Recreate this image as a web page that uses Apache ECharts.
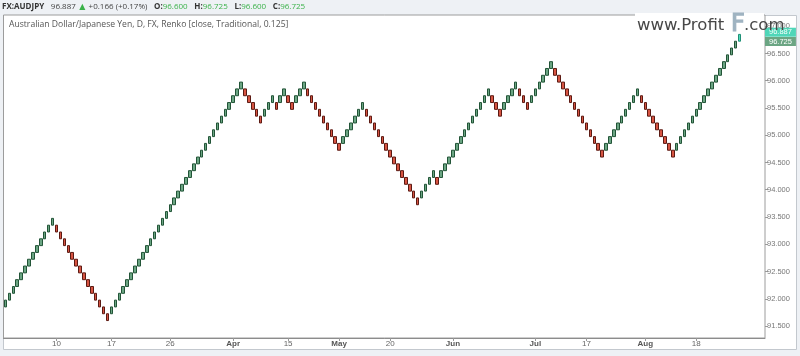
<!DOCTYPE html>
<html><head><meta charset="utf-8">
<script src="https://cdn.jsdelivr.net/npm/echarts@6/dist/echarts.min.js"></script>
<style>html,body{margin:0;padding:0;background:#eef1f5}#c{width:800px;height:356px}</style>
</head><body><div id="c"></div>
<script>
// ---- data ----
const brickSize = 0.125;
const firstOpen = 91.85;
const brickCloses = [
  91.975, 92.1, 92.225, 92.35, 92.475, 92.6, 92.725, 92.85, 92.975, 93.1, 93.225, 93.35, 93.475,
  93.225, 93.1, 92.975, 92.85, 92.725, 92.6, 92.475, 92.35, 92.225, 92.1, 91.975, 91.85, 91.725, 91.6,
  91.85, 91.975, 92.1, 92.225, 92.35, 92.475, 92.6, 92.725, 92.85, 92.975, 93.1, 93.225, 93.35, 93.475,
  93.6, 93.725, 93.85, 93.975, 94.1, 94.225, 94.35, 94.475, 94.6, 94.725, 94.85, 94.975, 95.1, 95.225,
  95.35, 95.475, 95.6, 95.725, 95.85, 95.975,
  95.725, 95.6, 95.475, 95.35, 95.225,
  95.475, 95.6, 95.725,
  95.475,
  95.725, 95.85,
  95.6, 95.475,
  95.725, 95.85, 95.975,
  95.725, 95.6, 95.475, 95.35, 95.225, 95.1, 94.975, 94.85, 94.725,
  94.975, 95.1, 95.225, 95.35, 95.475, 95.6,
  95.35, 95.225, 95.1, 94.975, 94.85, 94.725, 94.6, 94.475, 94.35, 94.225, 94.1, 93.975, 93.85, 93.725,
  93.975, 94.1, 94.225, 94.35,
  94.1,
  94.35, 94.475, 94.6, 94.725, 94.85, 94.975, 95.1, 95.225, 95.35, 95.475, 95.6, 95.725, 95.85,
  95.6, 95.475, 95.35,
  95.6, 95.725, 95.85, 95.975,
  95.725, 95.6, 95.475,
  95.725, 95.85, 95.975, 96.1, 96.225, 96.35,
  96.1, 95.975, 95.85, 95.725, 95.6, 95.475, 95.35, 95.225, 95.1, 94.975, 94.85, 94.725, 94.6,
  94.85, 94.975, 95.1, 95.225, 95.35, 95.475, 95.6, 95.725, 95.85,
  95.6, 95.475, 95.35, 95.225, 95.1, 94.975, 94.85, 94.725, 94.6,
  94.85, 94.975, 95.1, 95.225, 95.35, 95.475, 95.6, 95.725, 95.85, 95.975, 96.1, 96.225, 96.35, 96.475, 96.6, 96.725
];
const projectionClose = 96.85;
const xTickIndex = [13, 27, 42, 58, 72, 85, 98, 114, 135, 148, 163, 176];
const xTickText = ['10', '17', '26', 'Apr', '15', 'May', '20', 'Jun', 'Jul', '17', 'Aug', '18'];
const yTickValues = [91.5, 92, 92.5, 93, 93.5, 94, 94.5, 95, 95.5, 96, 96.5, 97];
const lastPrice = 96.887;
const lastClose = 96.725;

// ---- layout ----
const slotCount = 194;
const r3 = v => Math.round(v * 1000) / 1000;

const candles = [];
let prev = firstOpen;
brickCloses.forEach(c => {
  const dir = c > prev ? 1 : -1;
  const o = r3(c - dir * brickSize);
  candles.push([o, c, Math.min(o, c), Math.max(o, c)]);
  prev = c;
});
{
  const dir = projectionClose > prev ? 1 : -1;
  const o = r3(projectionClose - dir * brickSize);
  candles.push({
    value: [o, projectionClose, Math.min(o, projectionClose), Math.max(o, projectionClose)],
    itemStyle: { color: '#4fdcbc', borderColor: '#1f8f76', color0: '#4fdcbc', borderColor0: '#1f8f76' }
  });
}

const categories = Array.from({ length: slotCount }, (_, i) => {
  const k = xTickIndex.indexOf(i);
  return k >= 0 ? xTickText[k] : '';
});

const chart = echarts.init(document.getElementById('c'), null, { renderer: 'canvas' });
const fontUI = '"Open Sans", "DejaVu Sans", sans-serif';
const fontAxis = '"Liberation Sans", Arial, sans-serif';
const fontMark = '"DejaVu Sans", sans-serif';

chart.setOption({
  backgroundColor: '#eef1f5',
  animation: false,
  grid: {
    left: 3.5, right: 35, top: 15, bottom: 18,
    show: true, backgroundColor: '#ffffff', borderColor: '#9c9c9c', borderWidth: 1
  },
  xAxis: {
    type: 'category',
    data: categories,
    boundaryGap: true,
    axisLine: { show: true, lineStyle: { color: '#8c8c8c', width: 1 } },
    axisTick: {
      show: true, length: 3, alignWithLabel: true,
      interval: (i, v) => v !== '',
      lineStyle: { color: '#999' }
    },
    axisLabel: {
      interval: 0, margin: 2, fontSize: 8, color: '#666', fontFamily: fontAxis,
      formatter: v => (/[A-Za-z]/.test(v) ? '{m|' + v + '}' : v),
      rich: { m: { fontWeight: 'bold', fontSize: 8, color: '#555', fontFamily: fontAxis } }
    },
    splitLine: { show: false }
  },
  yAxis: {
    type: 'value',
    position: 'right',
    min: 91.28, max: 97.206,
    scale: true,
    axisLine: { show: false },
    axisTick: { show: true, length: 3, customValues: yTickValues, lineStyle: { color: '#999' } },
    axisLabel: {
      customValues: yTickValues, margin: 2, fontSize: 7.5, color: '#777', fontFamily: fontAxis,
      formatter: v => Number(v).toFixed(3)
    },
    splitLine: { show: false }
  },
  series: [{
    type: 'candlestick',
    data: candles,
    barWidth: 3,
    itemStyle: {
      color: '#6ba583', color0: '#d75442',
      borderColor: '#225437', borderColor0: '#5b1a13',
      borderWidth: 1
    },
    markLine: {
      silent: true,
      symbol: 'none',
      animation: false,
      lineStyle: { color: 'rgba(0,0,0,0)', width: 1, type: 'solid' },
      data: [
        { yAxis: lastPrice, label: { formatter: lastPrice.toFixed(3), backgroundColor: '#4fd6b8', color: '#f4fffb' } },
        { yAxis: lastClose, label: { formatter: lastClose.toFixed(3), backgroundColor: '#6ba583', color: '#ffffff' } }
      ],
      label: {
        show: true, position: 'end', distance: 0, fontSize: 7.5, fontFamily: fontAxis,
        padding: [1, 4, 0, 4], align: 'left'
      }
    }
  }],
  graphic: [
    { type: 'rect', z: -10, shape: { x: 3.5, y: 15.5, width: 793, height: 334 },
      style: { fill: '#ffffff', stroke: '#c3c8ce', lineWidth: 1 } },
    { type: 'rect', z: 50, shape: { x: 635, y: 13, width: 129, height: 4 }, style: { fill: '#ffffff' } },
    { type: 'text', z: 60, x: 2, y: 7,
      style: {
        text: '{b|FX:AUDJPY}  {n|96.887} {g|▲} {n|+0.166 (+0.17%)}  {b|O:}{g|96.600}  {b|H:}{g|96.725}  {b|L:}{g|96.600}  {b|C:}{g|96.725}',
        verticalAlign: 'middle',
        rich: {
          b: { fontWeight: 'bold', fontSize: 8, fill: '#333', fontFamily: fontUI },
          n: { fontSize: 8, fill: '#444', fontFamily: fontUI },
          g: { fontSize: 8, fill: '#3bb24a', fontFamily: fontUI }
        }
      } },
    { type: 'text', z: 60, x: 9, y: 25,
      style: { text: 'Australian Dollar/Japanese Yen, D, FX, Renko [close, Traditional, 0.125]',
        fontSize: 8.6, fill: '#555', fontFamily: fontUI, verticalAlign: 'middle' } },
    { type: 'text', z: 60, x: 637, y: 25.5,
      style: { text: 'www.Profit', fontSize: 16.5, fill: '#474747', fontFamily: fontMark, verticalAlign: 'middle' } },
    { type: 'text', z: 60, x: 731, y: 24.5,
      style: { text: 'F', fontSize: 24, fill: '#9fb3c1', stroke: '#9fb3c1', lineWidth: 1.2, fontFamily: fontMark, verticalAlign: 'middle' } },
    { type: 'text', z: 60, x: 744, y: 25.5,
      style: { text: '.com', fontSize: 16.5, fill: '#474747', fontFamily: fontMark, verticalAlign: 'middle' } }
  ]
});
</script></body></html>
